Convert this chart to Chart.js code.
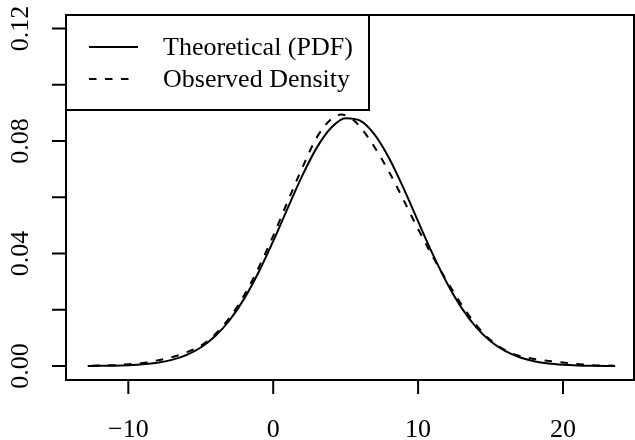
<!DOCTYPE html>
<html>
<head>
<meta charset="utf-8">
<script src="https://cdn.jsdelivr.net/npm/chart.js@4.4.1/dist/chart.umd.min.js"></script>
<style>
  body { margin: 0; background: #fff; }
</style>
</head>
<body>
<canvas id="densityChart" width="635" height="440"></canvas>
<script>
// values
const theoX = [-12.8, -12, -11, -10, -9, -8, -7, -6, -5, -4, -3, -2, -1, 0, 1, 2, 3, 4, 5, 6,
               7, 8, 9, 10, 11, 12, 13, 14, 15, 16, 17, 18, 19, 20, 21, 22, 23, 23.6];
const theoY = [0.00003, 0.00006, 0.00013, 0.00029, 0.00059, 0.00116, 0.00218, 0.00388, 0.00658,
               0.01063, 0.01635, 0.02395, 0.03341, 0.04438, 0.05614, 0.06762, 0.07755, 0.08469,
               0.08807, 0.08721, 0.08223, 0.07384, 0.06313, 0.05140, 0.03985, 0.02942, 0.02068,
               0.01384, 0.00882, 0.00536, 0.00310, 0.00170, 0.00089, 0.00045, 0.00021, 0.0001,
               0.00004, 0.00003];
const obsX = [-12.5, -11, -10, -9, -8, -7, -6, -5, -4, -3, -2, -1, 0, 1, 2, 3, 4, 4.7, 5.5, 6,
              7, 8, 9, 10, 11, 12, 13, 14, 15, 16, 17, 18, 19, 20, 21, 22, 23.5];
const obsY = [0.0001, 0.0003, 0.0006, 0.0011, 0.0020, 0.0031, 0.0048, 0.0072, 0.0113, 0.0172,
              0.0252, 0.0350, 0.0463, 0.0585, 0.0704, 0.0812, 0.0878, 0.0894, 0.0876, 0.0850,
              0.0778, 0.0690, 0.0590, 0.0487, 0.0390, 0.0301, 0.0218, 0.0146, 0.0092, 0.0056,
              0.0036, 0.0025, 0.0018, 0.0012, 0.0007, 0.0003, 0.0001];
const xTicks = [-10, 0, 10, 20];
const yTicks = [0, 0.02, 0.04, 0.06, 0.08, 0.10, 0.12];
const yTickLabels = ['0.00', '', '0.04', '', '0.08', '', '0.12'];
const legendLabels = ['Theoretical (PDF)', 'Observed Density'];

const FONT = '26px "Liberation Serif", "DejaVu Serif", serif';
const DASH = [7.5, 8.5];

const toPoints = (xs, ys) => xs.map((x, i) => ({ x: x, y: ys[i] }));

// R style box, axes and legend
const baseAxes = {
    id: 'baseAxes',
    afterDraw(chart) {
        const c = chart.ctx;
        const a = chart.chartArea;
        const sx = chart.scales.x, sy = chart.scales.y;
        c.save();
        c.strokeStyle = '#000';
        c.fillStyle = '#000';
        c.lineWidth = 2;
        c.strokeRect(a.left, a.top, a.right - a.left, a.bottom - a.top);

        c.font = FONT;
        // x axis
        c.textAlign = 'center';
        c.textBaseline = 'alphabetic';
        xTicks.forEach(v => {
            const px = sx.getPixelForValue(v);
            c.beginPath();
            c.moveTo(px, a.bottom);
            c.lineTo(px, a.bottom + 14);
            c.stroke();
            c.fillText(v < 0 ? '\u2212' + Math.abs(v) : String(v), px, 437);
        });
        // y axis
        yTicks.forEach((v, i) => {
            const py = sy.getPixelForValue(v);
            c.beginPath();
            c.moveTo(a.left, py);
            c.lineTo(a.left - 14, py);
            c.stroke();
            if (yTickLabels[i]) {
                c.save();
                c.translate(28, py);
                c.rotate(-Math.PI / 2);
                c.fillText(yTickLabels[i], 0, 0);
                c.restore();
            }
        });

        // legend
        c.fillStyle = '#fff';
        c.fillRect(a.left, a.top, 303, 95);
        c.strokeRect(a.left, a.top, 303, 95);
        const rows = [47, 79];
        const dashes = [[], DASH];
        const ends = [138, 136];
        c.fillStyle = '#000';
        c.textAlign = 'left';
        c.textBaseline = 'middle';
        rows.forEach((y, i) => {
            c.setLineDash(dashes[i]);
            c.beginPath();
            c.moveTo(89, y);
            c.lineTo(ends[i], y);
            c.stroke();
            c.setLineDash([]);
            c.fillText(legendLabels[i], 163, y + 1);
        });
        c.restore();
    }
};

const ctx = document.getElementById('densityChart').getContext('2d');
const densityChart = new Chart(ctx, {
    type: 'line',
    data: {
        datasets: [{
            label: legendLabels[0],
            data: toPoints(theoX, theoY),
            borderColor: '#000',
            borderWidth: 2,
            pointRadius: 0,
            cubicInterpolationMode: 'monotone'
        }, {
            label: legendLabels[1],
            data: toPoints(obsX, obsY),
            borderColor: '#000',
            borderWidth: 2,
            borderDash: DASH,
            pointRadius: 0,
            cubicInterpolationMode: 'monotone'
        }]
    },
    options: {
        responsive: false,
        animation: false,
        layout: { padding: { left: 66, right: 1, top: 15, bottom: 60 } },
        plugins: { legend: { display: false }, tooltip: { enabled: false } },
        scales: {
            x: { type: 'linear', display: false, min: -14.3, max: 24.9 },
            y: { type: 'linear', display: false, min: -0.00498, max: 0.1248 }
        }
    },
    plugins: [baseAxes]
});
</script>
</body>
</html>
